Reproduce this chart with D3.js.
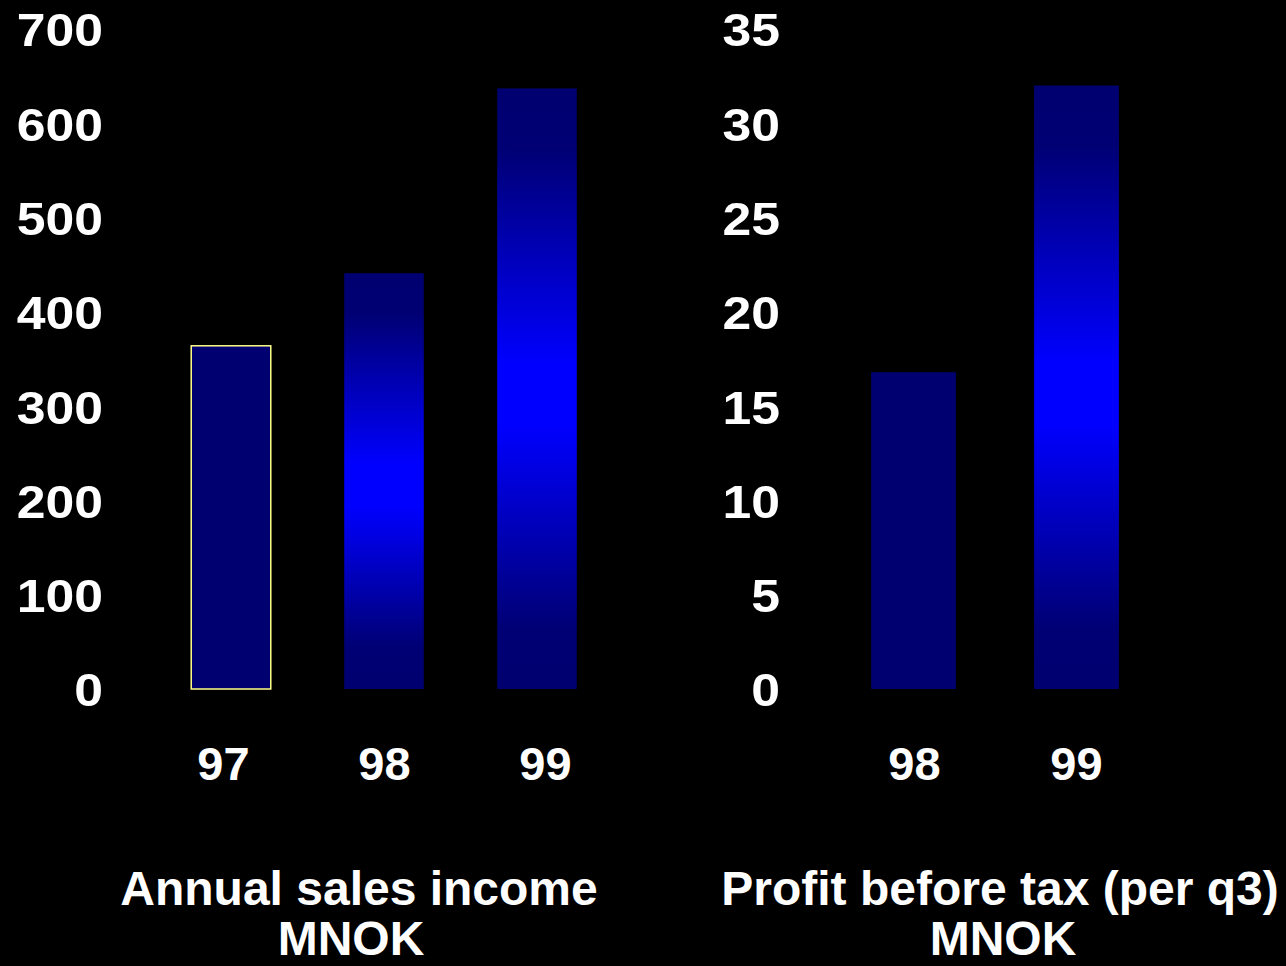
<!DOCTYPE html>
<html>
<head>
<meta charset="utf-8">
<script src="https://cdn.jsdelivr.net/npm/d3@7"></script>
<style>
  html, body { margin: 0; padding: 0; background: #000; }
  svg { display: block; }
  text { font-family: "Liberation Sans", Arial, sans-serif; font-weight: bold; fill: #fff; }
</style>
</head>
<body>
<svg id="chart" width="1286" height="966"></svg>
<script>
// Annual sales income (MNOK)
const salesYears = ["97", "98", "99"];
const salesValues = [364, 441, 637];
const salesFills = ["solid", "gradient", "gradient"];
const salesTicks = [0, 100, 200, 300, 400, 500, 600, 700];

// Profit before tax, per q3 (MNOK)
const profitYears = ["98", "99"];
const profitValues = [16.8, 32.0];
const profitFills = ["solid", "gradient"];
const profitTicks = [0, 5, 10, 15, 20, 25, 30, 35];

const svg = d3.select("#chart");
svg.append("rect").attr("width", 1286).attr("height", 966).attr("fill", "#000");

// vertical blue glow used on most bars
const defs = svg.append("defs");
const grad = defs.append("linearGradient")
  .attr("id", "blueGlow").attr("x1", 0).attr("y1", 0).attr("x2", 0).attr("y2", 1);
[[0, "#000070"], [0.1, "#000074"], [0.46, "#0000ff"], [0.56, "#0000ff"], [0.9, "#000074"], [1, "#000070"]]
  .forEach(([o, c]) => grad.append("stop").attr("offset", o).attr("stop-color", c));

const baseY = 689, topY = 29;

function panel(opts) {
  const y = d3.scaleLinear().domain([0, opts.max]).range([baseY, topY]);
  const x = d3.scaleBand().domain(opts.cats).range(opts.barRange)
    .paddingInner(opts.padIn).paddingOuter(opts.padOut);
  const xl = d3.scalePoint().domain(opts.cats).range(opts.labelRange);

  const g = svg.append("g");

  // value axis labels, drawn slightly wide
  const yAxis = g.append("g").attr("transform", `translate(${opts.axisX},0)`)
    .call(d3.axisLeft(y).tickValues(opts.ticks).tickSize(0).tickPadding(0));
  yAxis.select(".domain").remove();
  yAxis.selectAll("text")
    .attr("x", 0).attr("dy", "0.36em")
    .attr("text-anchor", "end")
    .style("font-size", "47px")
    .attr("transform", "scale(1.1,1)");

  // bars
  g.selectAll("rect.bar").data(opts.values).enter().append("rect")
    .attr("class", "bar")
    .attr("x", (d, i) => x(opts.cats[i]))
    .attr("width", x.bandwidth())
    .attr("y", d => y(d))
    .attr("height", d => baseY - y(d))
    .attr("fill", (d, i) => opts.fills[i] === "gradient" ? "url(#blueGlow)" : "#000070")
    .attr("stroke", (d, i) => opts.outlined && opts.outlined[i] ? "#ffff88" : "none")
    .attr("stroke-width", 1.5);

  // category labels
  const xAxis = g.append("g").attr("transform", `translate(0,${780})`)
    .call(d3.axisBottom(xl).tickSize(0).tickPadding(0));
  xAxis.select(".domain").remove();
  xAxis.selectAll("text").attr("y", 0).attr("dy", 0).style("font-size", "47px");

  // two-line title below the panel
  g.append("text").attr("text-anchor", "middle").style("font-size", "48px")
    .attr("x", opts.titleX).attr("y", 905).text(opts.title[0]);
  g.append("text").attr("text-anchor", "middle").style("font-size", "48px")
    .attr("x", opts.titleX + opts.subShift).attr("y", 955).text(opts.title[1]);
}

panel({
  cats: salesYears, values: salesValues, fills: salesFills, ticks: salesTicks, max: 700,
  outlined: [true, false, false],
  barRange: [154.5, 613.5], padIn: 0.48, padOut: 0.24,
  labelRange: [223, 545],
  axisX: 103,
  title: ["Annual sales income", "MNOK"], titleX: 359, subShift: -8
});

panel({
  cats: profitYears, values: profitValues, fills: profitFills, ticks: profitTicks, max: 35,
  barRange: [832, 1158], padIn: 0.48, padOut: 0.24,
  labelRange: [914, 1076],
  axisX: 780,
  title: ["Profit before tax (per q3)", "MNOK"], titleX: 1000, subShift: 3
});
</script>
</body>
</html>
